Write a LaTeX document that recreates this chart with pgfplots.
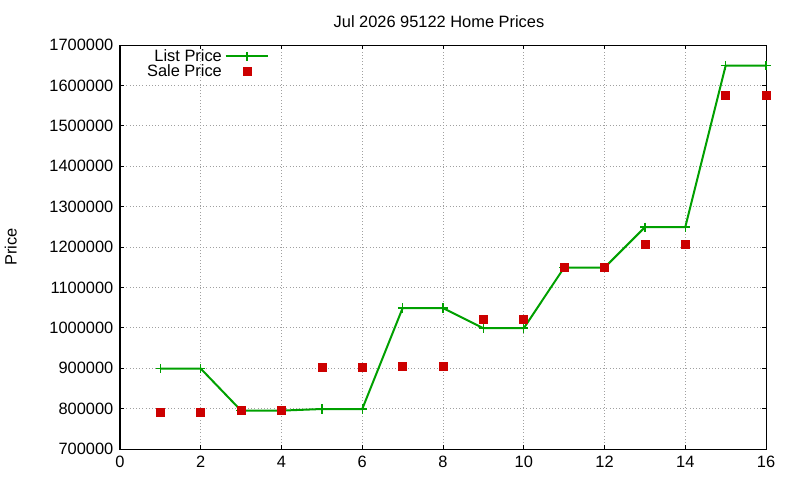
\documentclass[border=0pt]{standalone}
\usepackage{fontspec}
\setmainfont{Liberation Sans}
\usepackage{pgfplots}
\pgfplotsset{compat=1.18}
\definecolor{listgreen}{RGB}{0,160,0}
\definecolor{salered}{RGB}{204,0,0}
\definecolor{gridgray}{RGB}{160,160,160}
\pgfplotsset{
  lineleg/.style={legend image code/.code={
    \draw[listgreen, line width=1.5pt] (7pt,0pt) -- (39pt,0pt);
    \draw[listgreen, line width=1.1pt] plot[mark=+, mark size=3.5pt] coordinates {(23pt,0pt)};}},
  markleg/.style={legend image code/.code={
    \fill[salered] (20pt,-3pt) rectangle (26pt,3pt);}},
}
\begin{document}
\begin{tikzpicture}[x=1pt,y=1pt]
\begin{axis}[
  at={(90pt,23.25pt)}, anchor=south west,
  scale only axis, width=484.5pt, height=303pt,
  xmin=0, xmax=16, ymin=700000, ymax=1700000,
  xtick={0,2,...,16}, ytick={700000,800000,...,1700000},
  scaled y ticks=false,
  /pgf/number format/fixed, /pgf/number format/1000 sep={},
  /pgf/number format/assume math mode=true,
  tick align=inside, major tick length=3pt,
  tick style={black, line width=0.6pt},
  axis line style={line width=0.75pt},
  grid=major, major grid style={gridgray, dotted, line width=0.75pt},
  font=\fontsize{12.3}{14}\selectfont,
  tick label style={font=\fontsize{12.3}{14}\selectfont},
  xticklabel style={yshift=-2pt},
  yticklabel style={xshift=-1.5pt},
  title={Jul 2026 95122 Home Prices},
  title style={at={(axis description cs:0.5,1)}, anchor=base, yshift=7.5pt, xshift=-3pt},
  ylabel={Price},
  ylabel style={at={(axis description cs:-0.169,0.5)}, anchor=center},
  legend cell align=right,
  legend style={draw=none, fill=none, at={(axis description cs:0.2314,0.996)}, anchor=north east,
    legend plot pos=right, inner sep=0pt, row sep=-3pt, font=\fontsize{12.3}{14}\selectfont},
]
\addplot[listgreen, line width=1.5pt, mark=+, mark size=3.5pt, mark options={line width=1.1pt}, lineleg]
  coordinates {
  (1,899000) (2,899000) (3,795000) (4,795000) (5,799000) (6,799000)
  (7,1049000) (8,1049000) (9,999000) (10,999000) (11,1149000) (12,1149000)
  (13,1249000) (14,1249000) (15,1649000) (16,1649000)
};
\addlegendentry{List Price}
\addplot[only marks, mark=square*, mark size=3pt, color=salered, markleg]
  coordinates {
  (1,790000) (2,790000) (3,795000) (4,795000) (5,903000) (6,903000)
  (7,906000) (8,906000) (9,1020000) (10,1020000) (11,1150000) (12,1150000)
  (13,1208000) (14,1208000) (15,1576000) (16,1576000)
};
\addlegendentry{Sale Price}
\end{axis}
\pgfresetboundingbox
\path (0pt,0pt) rectangle (600pt,360pt);
\end{tikzpicture}
\end{document}
